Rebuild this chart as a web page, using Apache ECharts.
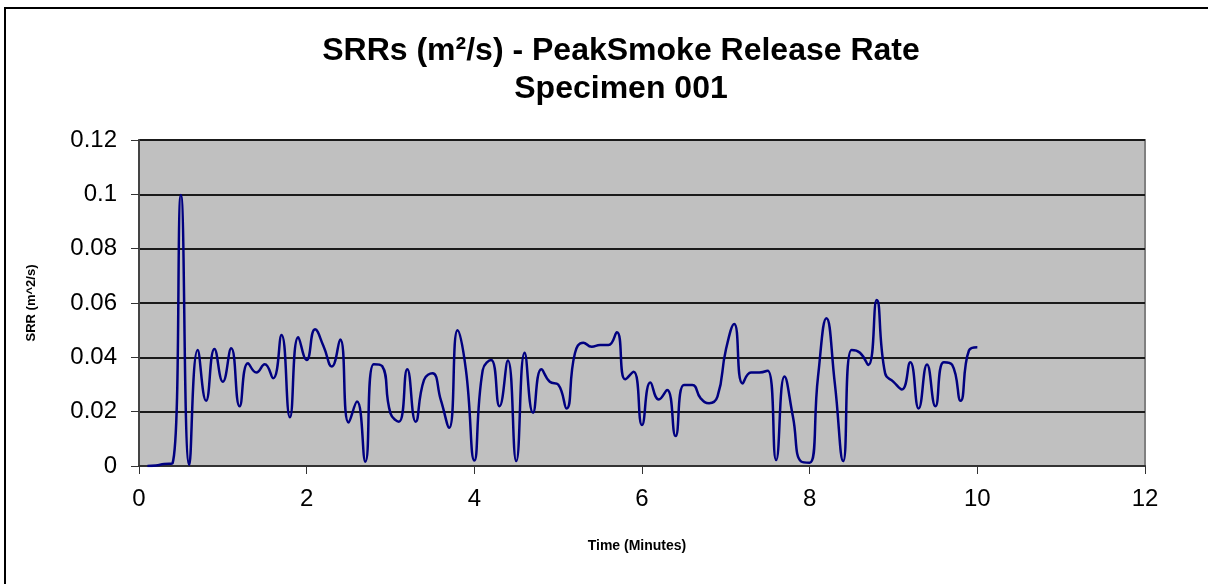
<!DOCTYPE html>
<html>
<head>
<meta charset="utf-8">
<script src="https://cdn.jsdelivr.net/npm/echarts@6/dist/echarts.min.js"></script>
<style>
  html, body { margin: 0; padding: 0; background: #fff; }
  #chart { width: 1208px; height: 584px; }
</style>
</head>
<body>
<div id="chart"></div>
<script>
// 时间 (分钟)
const times = [
  0.1, 0.2, 0.3, 0.4, 0.5, 0.6, 0.7, 0.8, 0.9, 1.0,
  1.1, 1.2, 1.3, 1.4, 1.5, 1.6, 1.7, 1.8, 1.9, 2.0,
  2.1, 2.2, 2.3, 2.4, 2.5, 2.6, 2.7, 2.8, 2.9, 3.0,
  3.1, 3.2, 3.3, 3.4, 3.5, 3.6, 3.7, 3.8, 3.9, 4.0,
  4.1, 4.2, 4.3, 4.4, 4.5, 4.6, 4.7, 4.8, 4.9, 5.0,
  5.1, 5.2, 5.3, 5.4, 5.5, 5.6, 5.7, 5.8, 5.9, 6.0,
  6.1, 6.2, 6.3, 6.4, 6.5, 6.6, 6.7, 6.8, 6.9, 7.0,
  7.1, 7.2, 7.3, 7.4, 7.5, 7.6, 7.7, 7.8, 7.9, 8.0,
  8.1, 8.2, 8.3, 8.4, 8.5, 8.6, 8.7, 8.8, 8.9, 9.0,
  9.1, 9.2, 9.3, 9.4, 9.5, 9.6, 9.7, 9.8, 9.9, 10.0
];

// SRR (m^2/s)
const srrValues = [
  0.0000, 0.0002, 0.0007, 0.0010, 0.0998, 0.0004, 0.0427, 0.0240, 0.0431, 0.0310,
  0.0433, 0.0220, 0.0378, 0.0344, 0.0375, 0.0323, 0.0482, 0.0179, 0.0474, 0.0390,
  0.0503, 0.0442, 0.0366, 0.0466, 0.0160, 0.0237, 0.0016, 0.0375, 0.0368, 0.0194,
  0.0163, 0.0356, 0.0163, 0.0317, 0.0341, 0.0243, 0.0141, 0.0500, 0.0353, 0.0020,
  0.0353, 0.0390, 0.0220, 0.0388, 0.0018, 0.0417, 0.0196, 0.0356, 0.0310, 0.0300,
  0.0212, 0.0415, 0.0454, 0.0439, 0.0445, 0.0445, 0.0492, 0.0319, 0.0347, 0.0151,
  0.0307, 0.0245, 0.0280, 0.0110, 0.0298, 0.0298, 0.0249, 0.0231, 0.0255, 0.0427,
  0.0523, 0.0304, 0.0344, 0.0344, 0.0351, 0.0022, 0.0329, 0.0182, 0.0016, 0.0012,
  0.0330, 0.0544, 0.0304, 0.0018, 0.0427, 0.0417, 0.0372, 0.0611, 0.0341, 0.0310,
  0.0282, 0.0382, 0.0212, 0.0374, 0.0220, 0.0382, 0.0372, 0.0240, 0.0425, 0.0437
];

const titleLines = ['SRRs (m²/s) - PeakSmoke Release Rate', 'Specimen 001'];
const xAxisName = 'Time (Minutes)';
const yAxisName = 'SRR (m^2/s)';

const chart = echarts.init(document.getElementById('chart'));

const titleFont = 'bold 32px "Liberation Sans", Arial, sans-serif';

const option = {
  animation: false,
  graphic: [
    {
      type: 'rect',
      silent: true,
      shape: { x: 5, y: 8, width: 1400, height: 800 },
      style: { fill: 'none', stroke: '#000', lineWidth: 2 }
    },
    {
      type: 'text',
      x: 621, y: 51,
      style: {
        text: titleLines[0],
        font: titleFont,
        fill: '#000',
        textAlign: 'center',
        textVerticalAlign: 'middle'
      }
    },
    {
      type: 'text',
      x: 621, y: 89,
      style: {
        text: titleLines[1],
        font: titleFont,
        fill: '#000',
        textAlign: 'center',
        textVerticalAlign: 'middle'
      }
    }
  ],
  grid: {
    left: 139,
    right: 63,
    top: 140,
    bottom: 118,
    show: true,
    backgroundColor: '#C0C0C0',
    borderColor: '#808080',
    borderWidth: 2
  },
  xAxis: {
    type: 'value',
    min: 0,
    max: 12,
    interval: 2,
    name: xAxisName,
    nameLocation: 'middle',
    nameGap: 73,
    nameTextStyle: {
      fontFamily: '"Liberation Sans", Arial, sans-serif',
      fontWeight: 'bold',
      fontSize: 14,
      color: '#000',
      padding: [0, 10, 0, 0]
    },
    axisLine: { show: true, onZero: false, lineStyle: { color: '#333', width: 2 } },
    axisTick: { show: true, inside: false, length: 8, lineStyle: { color: '#333', width: 1 } },
    axisLabel: {
      margin: 21,
      fontFamily: '"Liberation Sans", Arial, sans-serif',
      fontSize: 24,
      color: '#000'
    },
    splitLine: { show: false }
  },
  yAxis: {
    type: 'value',
    min: 0,
    max: 0.12,
    interval: 0.02,
    name: yAxisName,
    nameLocation: 'middle',
    nameGap: 101,
    nameRotate: 90,
    nameTextStyle: {
      fontFamily: '"Liberation Sans", Arial, sans-serif',
      fontWeight: 'bold',
      fontSize: 13,
      color: '#000'
    },
    axisLine: { show: true, lineStyle: { color: '#444', width: 2 } },
    axisTick: { show: true, inside: false, length: 8, lineStyle: { color: '#333', width: 1 } },
    axisLabel: {
      margin: 22,
      fontFamily: '"Liberation Sans", Arial, sans-serif',
      fontSize: 24,
      color: '#000'
    },
    splitLine: { show: true, lineStyle: { color: '#1a1a1a', width: 2 } }
  },
  series: [
    {
      name: 'SRR',
      type: 'line',
      data: times.map((t, i) => [t, srrValues[i]]),
      smooth: 0.5,
      showSymbol: false,
      lineStyle: { color: '#000080', width: 2.5 },
      z: 5
    }
  ]
};

chart.setOption(option);
</script>
</body>
</html>
